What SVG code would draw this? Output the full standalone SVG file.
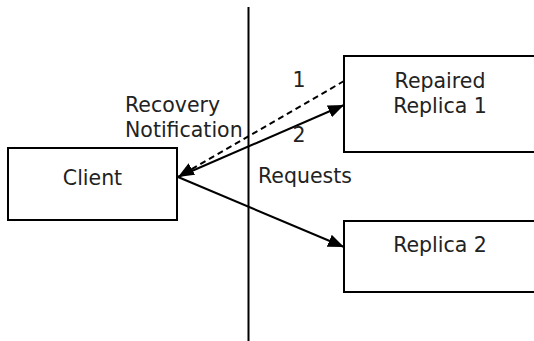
<svg xmlns="http://www.w3.org/2000/svg" width="534" height="341" viewBox="0 0 534 341">
<style>
.box{fill:#fff;stroke:#000;stroke-width:2}
.t{font-family:"DejaVu Sans",Verdana,sans-serif;font-size:20.5px;fill:#222}
.c{stroke:#000;stroke-width:2;fill:none}
</style>
<defs>
<marker id="ah" markerUnits="userSpaceOnUse" markerWidth="18" markerHeight="14" refX="16" refY="6.5" orient="auto">
<path d="M0,0 L16,6.5 L0,13 z" fill="#000"/>
</marker>
</defs>
<rect width="534" height="341" fill="#fff"/>
<line x1="248.5" y1="7" x2="248.5" y2="341" stroke="#000" stroke-width="2"/>
<g id="client"><rect class="box" x="8" y="148" width="169" height="72"/><text class="t" x="92.5" y="185" text-anchor="middle">Client</text></g>
<g id="replica1"><rect class="box" x="344" y="56" width="192" height="96"/><text class="t" x="440" y="88" text-anchor="middle">Repaired</text><text class="t" x="440" y="113" text-anchor="middle">Replica 1</text></g>
<g id="replica2"><rect class="box" x="344" y="221" width="192" height="71"/><text class="t" x="440" y="252" text-anchor="middle">Replica 2</text></g>
<g id="connectors">
<line class="c" x1="344" y1="81" x2="178" y2="177" stroke-dasharray="6,4" marker-end="url(#ah)"/>
<line class="c" x1="178" y1="177" x2="344" y2="105" marker-end="url(#ah)"/>
<line class="c" x1="178" y1="177" x2="344" y2="247" marker-end="url(#ah)"/>
</g>
<g id="labels">
<text class="t" x="125" y="112">Recovery</text>
<text class="t" x="125" y="137">Notification</text>
<text class="t" x="299" y="87" text-anchor="middle">1</text>
<text class="t" x="299" y="142" text-anchor="middle">2</text>
<text class="t" x="258" y="183">Requests</text>
</g>
</svg>
